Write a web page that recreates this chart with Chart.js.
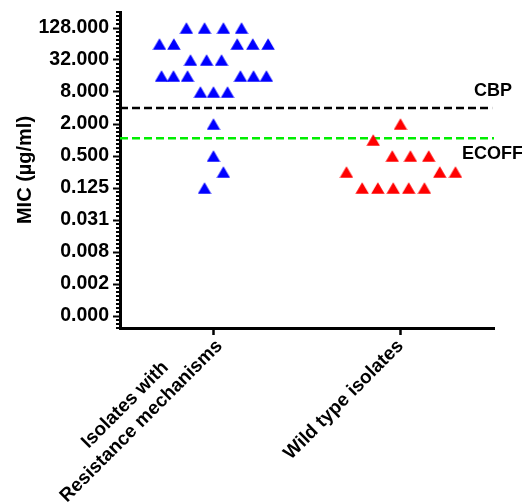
<!DOCTYPE html>
<html>
<head>
<meta charset="utf-8">
<script src="https://cdn.jsdelivr.net/npm/chart.js@4"></script>
<style>
html,body{margin:0;padding:0;background:#fff;}
canvas{display:block;}
</style>
</head>
<body>
<canvas id="c" width="522" height="504"></canvas>
<script>
// ---- data ----
const categories = [['Isolates with', 'Resistance mechanisms'], ['Wild type isolates']];
const categoryPositions = [1, 2];

const resistantMIC = [128,128,128,128, 64,64,64,64,64, 32,32,32, 16,16,16,16,16,16, 8,8,8, 2, 0.5, 0.25, 0.125];
const resistantOffset = [-0.145,-0.048,0.053,0.150, -0.289,-0.212,0.127,0.210,0.292, -0.123,-0.037,0.043, -0.278,-0.214,-0.139,0.144,0.214,0.283, -0.070,0,0.075, 0, 0, 0.053, -0.048];

const wildMIC = [2, 1, 0.5,0.5,0.5, 0.25,0.25,0.25, 0.125,0.125,0.125,0.125,0.125];
const wildOffset = [0, -0.146, -0.044,0.053,0.151, -0.289,0.210,0.294, -0.205,-0.121,-0.039,0.044,0.128];

const yTickValues = [128, 32, 8, 2, 0.5, 0.125, 0.03125, 0.0078125, 0.001953125, 0.00048828125];
const refLineValues = [4, 1.08];
const refLineLabels = ['CBP', 'ECOFF'];
const refLineColors = ['#000000', '#00EE00'];

// ---- build ----
const FONT = '"Liberation Sans", Arial, sans-serif';
function pts(mics, offs, center) {
  return mics.map((m, i) => ({x: center + offs[i], y: m}));
}
function triangle(color) {
  const c = document.createElement('canvas');
  c.width = 14; c.height = 12;
  const g = c.getContext('2d');
  g.fillStyle = color;
  g.beginPath();
  g.moveTo(0.3, 11.7); g.lineTo(7, 0.3); g.lineTo(13.7, 11.7); g.closePath();
  g.fill();
  return c;
}
const xMin = 0.5, xMax = 2.5;
const yMin = Math.pow(2, -11.75), yMax = 256;

const refDatasets = refLineValues.map((v, i) => ({
  type: 'line',
  label: refLineLabels[i],
  data: [{x: xMin, y: v}, {x: i === 0 ? 2.49 : xMax, y: v}],
  borderColor: refLineColors[i],
  borderWidth: 2.5,
  borderDash: [8, 4],
  pointRadius: 0,
  fill: false,
  order: 2
}));

const refLabelPlugin = {
  id: 'refLabels',
  afterDraw(chart) {
    const ctx = chart.ctx, ys = chart.scales.y, area = chart.chartArea;
    ctx.save();
    ctx.font = 'bold 18px ' + FONT;
    ctx.fillStyle = '#000';
    ctx.textBaseline = 'middle';
    ctx.textAlign = 'left';
    refLineValues.forEach((v, i) => {
      const py = ys.getPixelForValue(v);
      if (i === 0) ctx.fillText(refLineLabels[i], area.right - 20, py - 17);
      else ctx.fillText(refLineLabels[i], area.right - 32, py + 16);
    });
    ctx.restore();
  }
};

const minorTickPlugin = {
  id: 'minorTicks',
  afterDraw(chart) {
    const ctx = chart.ctx, ys = chart.scales.y, area = chart.chartArea;
    ctx.save();
    ctx.strokeStyle = '#000';
    ctx.lineWidth = 2;
    for (let k = -47; k <= 32; k++) {
      if (((k % 8) + 8) % 8 === 4) continue; // major ticks drawn by the scale
      const py = ys.getPixelForValue(Math.pow(2, k / 4));
      if (py < area.top - 0.5 || py > area.bottom + 0.5) continue;
      ctx.beginPath();
      ctx.moveTo(area.left - 4, py);
      ctx.lineTo(area.left, py);
      ctx.stroke();
    }
    ctx.restore();
  }
};

// category labels: rotated 45°, lines centred on each other, last line ending at the tick
const categoryLabelPlugin = {
  id: 'categoryLabels',
  afterDraw(chart) {
    const ctx = chart.ctx, xs = chart.scales.x;
    const lh = 23;
    const rot = -Math.PI / 4;
    ctx.save();
    ctx.font = 'bold 19px ' + FONT;
    ctx.fillStyle = '#000';
    ctx.textBaseline = 'middle';
    categories.forEach((lines, i) => {
      const px = xs.getPixelForValue(categoryPositions[i]) + (lines.length > 1 ? 6 : 0);
      const y0 = xs.top + 7;
      const wLast = ctx.measureText(lines[lines.length - 1]).width;
      ctx.save();
      ctx.translate(px + (lh / 2) * Math.sin(rot), y0);
      ctx.rotate(rot);
      ctx.textAlign = 'center';
      lines.forEach((t, j) => {
        ctx.fillText(t, -wLast / 2, lh / 2 - (lines.length - 1 - j) * lh);
      });
      ctx.restore();
    });
    ctx.restore();
  }
};

new Chart(document.getElementById('c'), {
  type: 'scatter',
  data: {
    datasets: [
      {
        label: 'Isolates with Resistance mechanisms',
        data: pts(resistantMIC, resistantOffset, categoryPositions[0]),
        pointStyle: triangle('#0000FF'),
        backgroundColor: '#0000FF',
        order: 1
      },
      {
        label: 'Wild type isolates',
        data: pts(wildMIC, wildOffset, categoryPositions[1]),
        pointStyle: triangle('#FF0000'),
        backgroundColor: '#FF0000',
        order: 1
      },
      ...refDatasets
    ]
  },
  options: {
    responsive: false,
    animation: false,
    events: [],
    layout: {padding: {top: 12, right: 28, left: 0, bottom: 0}},
    plugins: {legend: {display: false}, tooltip: {enabled: false}},
    scales: {
      x: {
        type: 'linear',
        min: xMin, max: xMax,
        afterBuildTicks(s) { s.ticks = categoryPositions.map(v => ({value: v})); },
        afterFit(s) { s.height = 176; s.paddingLeft = 0; s.paddingRight = 0; },
        ticks: {display: false},
        grid: {display: true, drawOnChartArea: false, drawTicks: true, tickLength: 7, tickWidth: 2.5, tickColor: '#000'},
        border: {display: true, width: 3, color: '#000'}
      },
      y: {
        type: 'logarithmic',
        min: yMin, max: yMax,
        afterBuildTicks(s) { s.ticks = yTickValues.map(v => ({value: v})); },
        afterFit(s) { s.width = 120; s.paddingTop = 0; s.paddingBottom = 0; },
        ticks: {
          autoSkip: false,
          padding: 4,
          color: '#000',
          font: {family: FONT, size: 19.5, weight: 'bold'},
          callback(v) { return Number(v).toFixed(3); }
        },
        grid: {display: true, drawOnChartArea: false, drawTicks: true, tickLength: 7, tickWidth: 2, tickColor: '#000'},
        border: {display: true, width: 3, color: '#000'},
        title: {
          display: true,
          text: 'MIC (µg/ml)',
          color: '#000',
          padding: {top: 13, bottom: 0},
          font: {family: FONT, size: 20, weight: 'bold'}
        }
      }
    }
  },
  plugins: [minorTickPlugin, refLabelPlugin, categoryLabelPlugin]
});
</script>
</body>
</html>
